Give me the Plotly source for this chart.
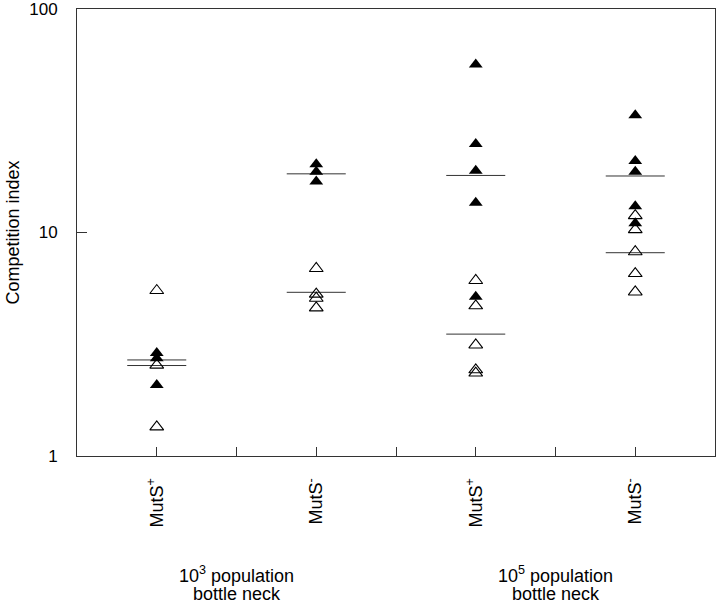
import plotly.graph_objects as go

# ---- data ----
group_positions = [1, 3, 5, 7]
group_tick_labels = ["MutS<sup>+</sup>", "MutS<sup>-</sup>", "MutS<sup>+</sup>", "MutS<sup>-</sup>"]
bottleneck_line1 = ["10<sup>3</sup> population", "10<sup>5</sup> population"]
bottleneck_line2 = ["bottle neck", "bottle neck"]
bottleneck_positions = [2, 6]

filled_g1 = [2.89, 2.74, 2.08]
open_g1 = [5.5, 2.55, 1.35]
filled_g2 = [20.2, 18.7, 16.9]
open_g2 = [6.9, 5.3, 5.08, 4.6]
filled_g3 = [56.5, 24.9, 18.9, 13.6, 5.16]
open_g3 = [6.1, 4.7, 3.14, 2.43, 2.35]
filled_g4 = [33.5, 20.9, 18.7, 13.1, 11.0]
open_g4 = [11.9, 10.3, 8.2, 6.55, 5.42]

filled_means = [2.69, 18.3, 18.0, 17.9]
open_means = [2.54, 5.40, 3.51, 8.12]

filled_groups = [filled_g1, filled_g2, filled_g3, filled_g4]
open_groups = [open_g1, open_g2, open_g3, open_g4]

FONT = "Liberation Sans, Arial, sans-serif"
HALF = 0.37

fig = go.Figure()

# mean lines
for pos, fm, om in zip(group_positions, filled_means, open_means):
    for m in (fm, om):
        fig.add_trace(go.Scatter(
            x=[pos - HALF, pos + HALF], y=[m, m], mode="lines",
            line=dict(color="#333333", width=1), hoverinfo="skip", showlegend=False))

# open triangles
for pos, vals in zip(group_positions, open_groups):
    fig.add_trace(go.Scatter(
        x=[pos] * len(vals), y=vals, mode="markers",
        marker=dict(symbol="triangle-up-open", size=12, color="black",
                    line=dict(color="black", width=1.1)),
        showlegend=False))

# filled triangles
for pos, vals in zip(group_positions, filled_groups):
    fig.add_trace(go.Scatter(
        x=[pos] * len(vals), y=vals, mode="markers",
        marker=dict(symbol="triangle-up", size=12, color="black",
                    line=dict(color="black", width=0)),
        showlegend=False))

# bottleneck group labels (two lines each)
for pos, l1, l2 in zip(bottleneck_positions, bottleneck_line1, bottleneck_line2):
    fig.add_annotation(x=pos, y=-0.266, xref="x", yref="paper", text=l1,
                       showarrow=False, yanchor="middle", xanchor="center",
                       font=dict(family=FONT, size=18, color="black"))
    fig.add_annotation(x=pos, y=-0.309, xref="x", yref="paper", text=l2,
                       showarrow=False, yanchor="middle", xanchor="center",
                       font=dict(family=FONT, size=18, color="black"))

tickvals = list(range(1, 8))
ticktext = []
for v in tickvals:
    if v in group_positions:
        ticktext.append(group_tick_labels[group_positions.index(v)])
    else:
        ticktext.append("")

fig.update_layout(
    width=720, height=603,
    margin=dict(l=77, r=5, t=9, b=147),
    paper_bgcolor="white", plot_bgcolor="white",
    font=dict(family=FONT, color="black"),
)
fig.update_xaxes(
    range=[0, 8], tickvals=tickvals, ticktext=ticktext, tickangle=-90,
    ticks="inside", ticklen=9, tickcolor="#333", showgrid=False, zeroline=False,
    showline=True, linecolor="#333", linewidth=1, mirror=True, automargin=False,
    tickfont=dict(family=FONT, size=18), ticklabelstandoff=14,
)
fig.update_yaxes(
    type="log", range=[0, 2], tickvals=[1, 10, 100], ticktext=["1", "10", "100"],
    ticks="inside", ticklen=10, tickcolor="#333", showgrid=False, zeroline=False,
    showline=True, linecolor="#333", linewidth=1, mirror=True, automargin=False,
    tickfont=dict(family=FONT, size=17), ticklabelstandoff=15, ticklabeloverflow="allow",
    title=dict(text="Competition index", font=dict(family=FONT, size=18), standoff=4),
)

# remove the page's default 8px body margin so the figure sits at the window's corner
fig.write_html("out.html", post_script="document.body.style.margin='0';",
               config={"displayModeBar": False})
